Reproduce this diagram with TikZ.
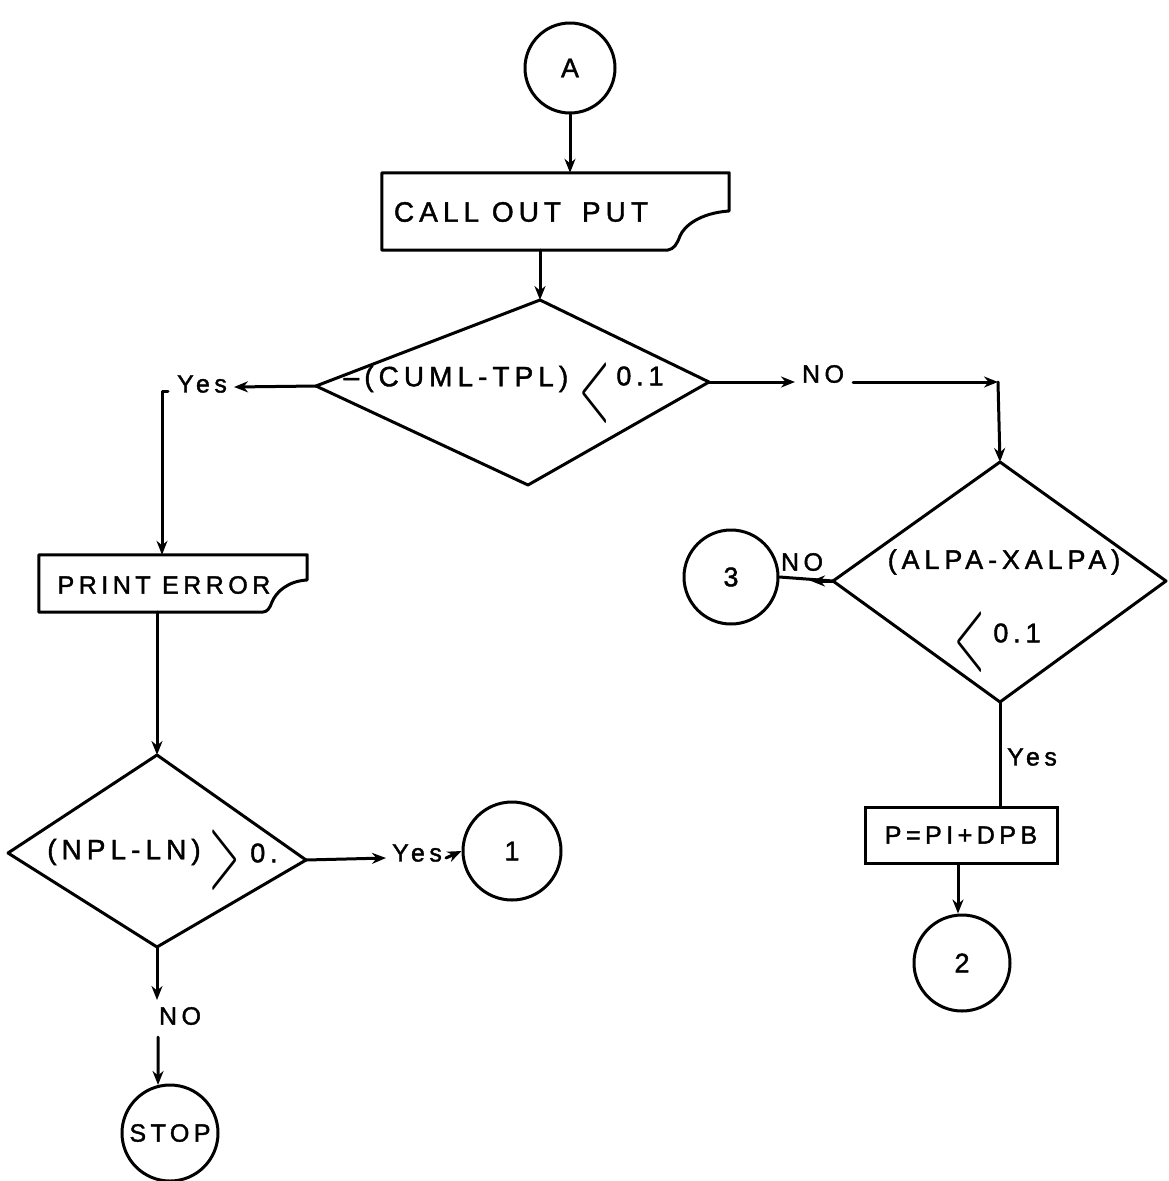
\documentclass[tikz,border=0pt]{standalone}
\usepackage{fontspec}
\usepackage{graphicx}
\usetikzlibrary{arrows.meta}
\newfontfamily\hand[LetterSpace=18,FakeBold=1.5]{Liberation Sans}
\newcommand{\handsz}[1]{\hand\fontsize{#1}{#1}\selectfont}
\newcommand{\bigrel}[1]{\scalebox{1.6}[4.4]{\fontsize{28}{28}\selectfont$#1$}}
\begin{document}
\begin{tikzpicture}[x=1pt,y=-1pt,
  ln/.style={line width=3pt, line cap=round, line join=round},
  arr/.style={ln, -{Stealth[length=14pt,width=11pt]}},
  circ/.style={circle, draw, line width=3pt, inner sep=0pt, font=\handsz{27}},
  txt/.style={inner sep=0pt, font=\handsz{28}},
  lbl/.style={inner sep=0pt, font=\handsz{25}},
  boxn/.style={draw=none, inner sep=0pt},
  rel/.style={inner sep=0pt}
]
\useasboundingbox (0,0) rectangle (1168,1181);

% ---------- connector circles ----------
\node[circ, minimum size=90pt] (A) at (570,68) {A};
\node[circ, minimum size=98pt] (c1) at (512,851) {1};
\node[circ, minimum size=96pt] (c2) at (962,963) {2};
\node[circ, minimum size=94pt] (c3) at (731,577) {3};
\node[circ, minimum size=96pt, font=\handsz{25}] (stop) at (170,1133) {STOP};

% ---------- CALL OUT PUT (document shape) ----------
\node[boxn, minimum width=347pt, minimum height=77pt] (call) at (555.5,211.5) {};
\draw[ln] (call.north west) -- (call.north east) -- (729,211)
  .. controls (700,213) and (684,226) .. (680,236)
  .. controls (677,244) and (674,249) .. (668,250) -- (call.south west) -- cycle;
\node[txt] (callt) at (521,212) {CALL OUT\hspace{8pt} PUT};

% ---------- decision 1 ----------
\coordinate (D1t) at (540,300);
\coordinate (D1r) at (709,382);
\coordinate (D1b) at (528,485);
\coordinate (D1l) at (316,386);
\draw[ln] (D1t) -- (D1r) -- (D1b) -- (D1l) -- cycle;
\node[txt] (d1a) at (456,379) {\char"2013(CUML-TPL)};
\node[rel] (d1b) at (595,393) {\bigrel{<}};
\node[txt, font=\handsz{27}] (d1c) at (640,376) {0.1};

% ---------- PRINT ERROR (document shape) ----------
\node[boxn, minimum width=268pt, minimum height=57pt] (pe) at (173,583.5) {};
\draw[ln] (pe.north west) -- (pe.north east) -- (307,580)
  .. controls (288,581) and (276,592) .. (272,602)
  .. controls (270,608) and (267,612) .. (263,612) -- (pe.south west) -- cycle;
\node[txt, font=\handsz{25}] (pet) at (164,585) {PRINT ERROR};

% ---------- decision 2 ----------
\coordinate (D2t) at (1000,462);
\coordinate (D2r) at (1166,581);
\coordinate (D2b) at (1000,702);
\coordinate (D2l) at (833,581);
\draw[ln] (D2t) -- (D2r) -- (D2b) -- (D2l) -- cycle;
\node[txt, font=\handsz{27}] (d2a) at (1004,562) {(ALPA-XALPA)};
\node[rel] (d2b) at (970,642) {\bigrel{<}};
\node[txt, font=\handsz{27}] (d2c) at (1017,633) {0.1};

% ---------- P = PI + DPB ----------
\node[draw, line width=3pt, minimum width=192pt, minimum height=56pt, inner sep=0pt,
      font=\handsz{25}] (pbox) at (961,835) {P=PI+DPB};

% ---------- decision 3 ----------
\coordinate (D3t) at (157,755);
\coordinate (D3r) at (306,860);
\coordinate (D3b) at (157,947);
\coordinate (D3l) at (8,853);
\draw[ln] (D3t) -- (D3r) -- (D3b) -- (D3l) -- cycle;
\node[txt] (d3a) at (124,852) {(NPL-LN)};
\node[rel] (d3b) at (225,860) {\bigrel{>}};
\node[txt, font=\handsz{27}] (d3c) at (264,853) {0.};

% ---------- labels ----------
\node[lbl] (yes1) at (202,384) {Yes};
\node[lbl] (no1) at (823,374) {NO};
\node[lbl] (no2) at (802,562) {NO};
\node[lbl] (yes2) at (1032,757) {Yes};
\node[lbl] (yes3) at (417,853) {Yes};
\node[lbl] (no3) at (180,1016) {NO};

\coordinate (yesLend) at (234,387);
\coordinate (yesLtick) at (168,391);
\coordinate (yesLcorner) at (162,391);
\coordinate (noRend) at (795,382);
\coordinate (noRstart) at (853,382);
\coordinate (noRcorner) at (998,382);
\coordinate (noLmid) at (811,581);
\coordinate (yes3end) at (386,858);
\coordinate (yes3start) at (446,858);
\coordinate (no3end) at (157,1000);
\coordinate (no3start) at (158,1037);
\coordinate (p2x) at (958,0);

% ---------- connectors ----------
\draw[arr] (A.south) -- (A.south |- call.north);
\draw[arr] (D1t |- call.south) -- (D1t);
% yes branch (left)
\draw[arr] (D1l) -- (yesLend);
\draw[arr] (yesLtick) -- (yesLcorner) -- (yesLcorner |- pe.north);
% no branch (right)
\draw[arr] (D1r) -- (noRend);
\draw[arr] (noRstart) -- (noRcorner);
\draw[arr] (noRcorner) -- (D2t);
% decision 2
\draw[ln] (D2l) -- (c3.east);
\draw[arr] (D2l) -- (noLmid);
\draw[ln] (D2b) -- (D2b |- pbox.north);
\draw[arr] (p2x |- pbox.south) -- (p2x |- c2.north);
% print error to decision 3
\draw[arr] (pe.south -| D3t) -- (D3t);
% decision 3
\draw[arr] (D3r) -- (yes3end);
\draw[arr] (yes3start) -- (c1.west);
\draw[arr] (D3b) -- (no3end);
\draw[arr] (no3start) -- (stop.104);
\end{tikzpicture}
\end{document}
